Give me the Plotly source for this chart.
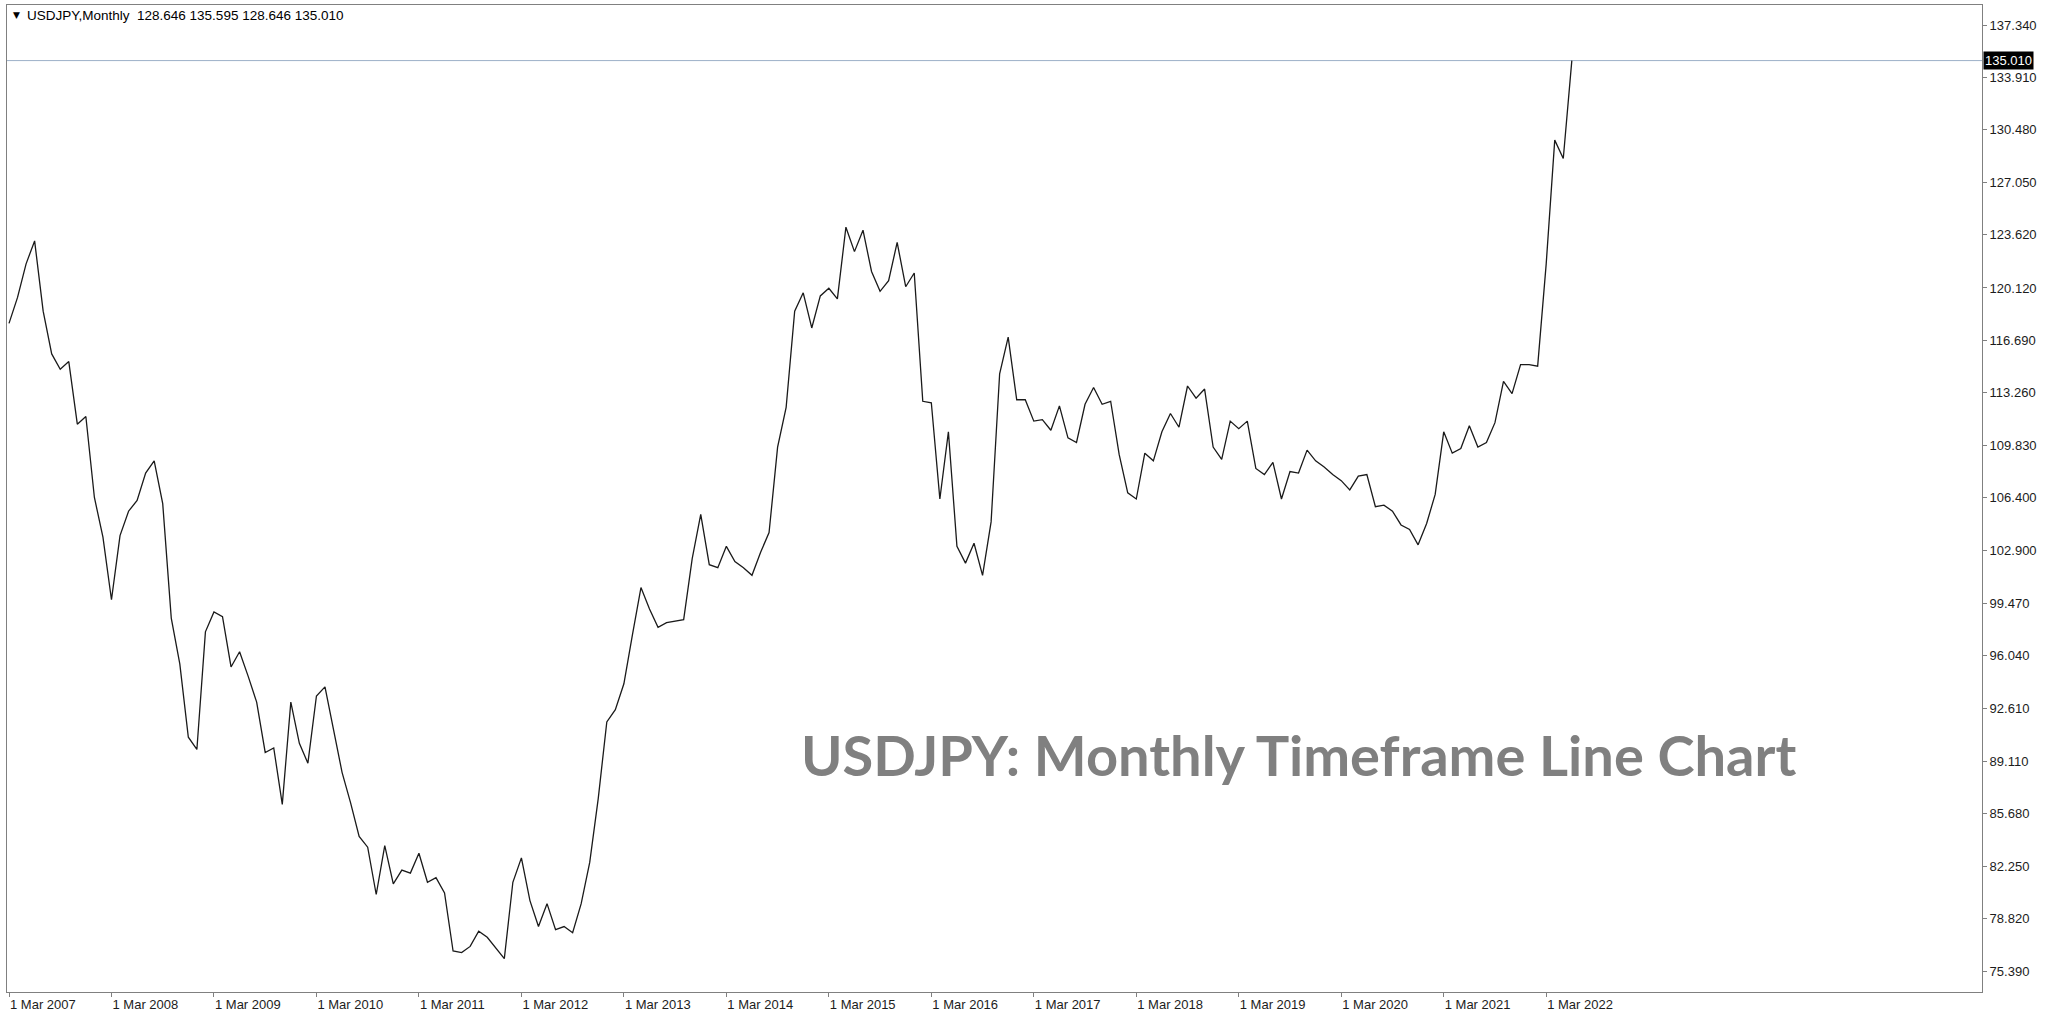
import plotly.graph_objects as go
import pandas as pd

# ---- Data: USDJPY monthly closes, Mar 2007 .. Jun 2022 ----
closes_2007 = [117.8, 119.5, 121.7, 123.2, 118.6, 115.8, 114.8, 115.3, 111.2, 111.7]
closes_2008 = [106.4, 103.8, 99.7, 103.9, 105.5, 106.2, 108.0, 108.8, 106.0, 98.5, 95.5, 90.7]
closes_2009 = [89.9, 97.6, 98.9, 98.6, 95.3, 96.3, 94.7, 93.0, 89.7, 90.0, 86.3, 93.0]
closes_2010 = [90.3, 89.0, 93.4, 94.0, 91.2, 88.4, 86.4, 84.2, 83.5, 80.4, 83.6, 81.1]
closes_2011 = [82.0, 81.8, 83.1, 81.2, 81.5, 80.5, 76.7, 76.6, 77.0, 78.0, 77.6, 76.9]
closes_2012 = [76.2, 81.2, 82.8, 80.0, 78.3, 79.8, 78.1, 78.3, 77.9, 79.8, 82.5, 86.7]
closes_2013 = [91.7, 92.5, 94.2, 97.4, 100.5, 99.1, 97.9, 98.2, 98.3, 98.4, 102.4, 105.3]
closes_2014 = [102.0, 101.8, 103.2, 102.2, 101.8, 101.3, 102.8, 104.1, 109.7, 112.3, 118.6, 119.8]
closes_2015 = [117.5, 119.6, 120.1, 119.4, 124.1, 122.5, 123.9, 121.2, 119.9, 120.6, 123.1, 120.2]
closes_2016 = [121.1, 112.7, 112.6, 106.3, 110.7, 103.2, 102.1, 103.4, 101.3, 104.8, 114.5, 116.9]
closes_2017 = [112.8, 112.8, 111.4, 111.5, 110.8, 112.4, 110.3, 110.0, 112.5, 113.6, 112.5, 112.7]
closes_2018 = [109.2, 106.7, 106.3, 109.3, 108.8, 110.7, 111.9, 111.0, 113.7, 112.9, 113.5, 109.7]
closes_2019 = [108.9, 111.4, 110.9, 111.4, 108.3, 107.9, 108.7, 106.3, 108.1, 108.0, 109.5, 108.8]
closes_2020 = [108.4, 107.9, 107.5, 106.9, 107.8, 107.9, 105.8, 105.9, 105.5, 104.6, 104.3, 103.3]
closes_2021 = [104.7, 106.6, 110.7, 109.3, 109.6, 111.1, 109.7, 110.0, 111.3, 114.0, 113.2, 115.1]
closes_2022 = [115.1, 115.0, 121.7, 129.8, 128.6, 135.01]

closes = (closes_2007 + closes_2008 + closes_2009 + closes_2010 + closes_2011 +
          closes_2012 + closes_2013 + closes_2014 + closes_2015 + closes_2016 +
          closes_2017 + closes_2018 + closes_2019 + closes_2020 + closes_2021 +
          closes_2022)

months = [d.strftime("%Y-%m") for d in pd.date_range("2007-03-01", "2022-06-01", freq="MS")]

x_tick_vals = [f"{y}-03" for y in range(2007, 2023)]
x_tick_text = [f"1 Mar {y}" for y in range(2007, 2023)]

y_tick_vals = [137.340, 133.910, 130.480, 127.050, 123.620, 120.120, 116.690, 113.260,
               109.830, 106.400, 102.900, 99.470, 96.040, 92.610, 89.110, 85.680,
               82.250, 78.820, 75.390]
y_tick_text = [f"{v:.3f}" for v in y_tick_vals]

current_price = 135.010
header_text = "USDJPY,Monthly\u00a0 128.646 135.595 128.646 135.010"
chart_title = "USDJPY: Monthly Timeframe Line Chart"

# ---- Figure ----
W, H = 2046, 1018
ml, mr, mt, mb = 7, 64, 5, 26
axis_grey = "#808080"
tick_font = dict(family="Liberation Sans, Arial, sans-serif", size=13, color="#1c1c1c")

fig = go.Figure()
fig.add_trace(go.Scatter(
    x=months, y=closes, mode="lines",
    line=dict(color="#1a1a1a", width=1.3),
    hoverinfo="skip", showlegend=False,
))

fig.add_shape(type="line", xref="paper", x0=0, x1=1, yref="y",
              y0=current_price, y1=current_price,
              line=dict(color="#9db0c8", width=1), layer="below")

fig.add_annotation(xref="paper", x=1, yref="y", y=current_price,
                   xanchor="left", yanchor="middle", xshift=1,
                   text=f"{current_price:.3f}", showarrow=False,
                   bgcolor="black", borderpad=1,
                   font=dict(family="Liberation Sans, Arial, sans-serif", size=13, color="white"))

fig.add_annotation(xref="paper", x=0, yref="paper", y=1, xanchor="left", yanchor="middle",
                   xshift=4, yshift=-10, text="▼", showarrow=False,
                   font=dict(family="DejaVu Sans", size=9, color="black"))
fig.add_annotation(xref="paper", x=0, yref="paper", y=1, xanchor="left", yanchor="middle",
                   xshift=18, yshift=-10, text=header_text, showarrow=False,
                   font=dict(family="Liberation Sans, Arial, sans-serif", size=13.5, color="black"))

fig.add_annotation(xref="paper", x=0.6537, yref="paper", y=0.2411,
                   xanchor="center", yanchor="middle", text=chart_title, showarrow=False,
                   font=dict(family="Lato", size=56, color="#808080", weight="bold"))

fig.update_layout(
    width=W, height=H,
    margin=dict(l=ml, r=mr, t=mt, b=mb, pad=0),
    paper_bgcolor="white", plot_bgcolor="white",
    hovermode=False,
    xaxis=dict(
        type="category", range=[-0.234, 231.03],
        tickmode="array", tickvals=x_tick_vals, ticktext=x_tick_text,
        ticks="outside", ticklen=4, tickcolor=axis_grey, tickwidth=1,
        ticklabelposition="outside right",
        showline=True, linecolor=axis_grey, linewidth=1, mirror=True,
        showgrid=False, zeroline=False, tickfont=tick_font, fixedrange=True,
        automargin=False,
    ),
    yaxis=dict(
        side="right", range=[74.015, 138.65],
        tickmode="array", tickvals=y_tick_vals, ticktext=y_tick_text,
        ticks="outside", ticklen=4, tickcolor=axis_grey, tickwidth=1,
        showline=True, linecolor=axis_grey, linewidth=1, mirror=True,
        showgrid=False, zeroline=False, tickfont=tick_font, fixedrange=True,
        automargin=False,
    ),
)

fig.write_html("out.html", config={"displayModeBar": False},
               post_script="document.body.style.margin='0';document.body.style.overflow='hidden';")
